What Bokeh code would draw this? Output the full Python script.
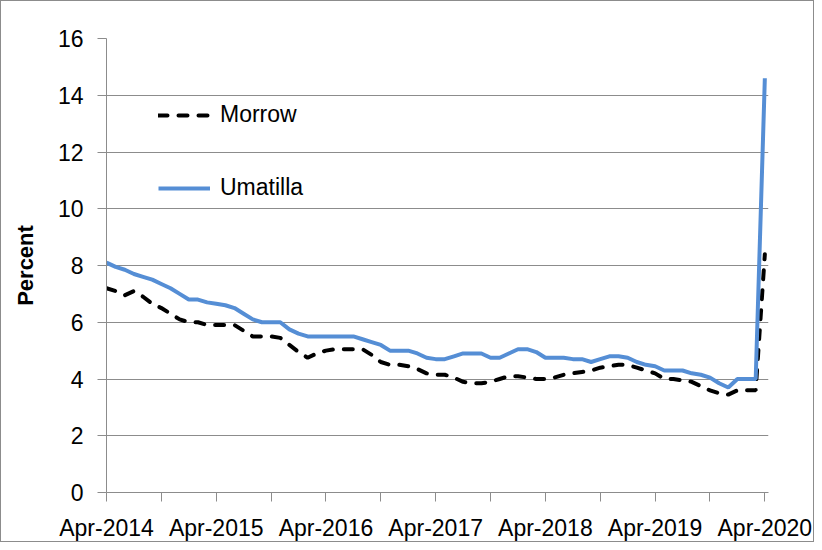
from bokeh.plotting import figure
from bokeh.models import Range1d, FixedTicker, Legend, LegendItem
from bokeh.embed import file_html
from bokeh.resources import INLINE

tick_labels = ["Apr-2014", "Apr-2015", "Apr-2016", "Apr-2017", "Apr-2018", "Apr-2019", "Apr-2020"]

morrow = [7.2, 7.1, 6.95, 7.1, 6.9, 6.65, 6.5, 6.3, 6.1, 6.0, 6.0, 5.9,
          5.9, 5.9, 5.9, 5.7, 5.5, 5.5, 5.5, 5.45, 5.2, 4.95, 4.75, 4.9,
          5.0, 5.05, 5.05, 5.05, 5.05, 4.85, 4.6, 4.5, 4.5, 4.45, 4.35, 4.2,
          4.15, 4.15, 4.05, 3.9, 3.85, 3.85, 3.9, 4.0, 4.1, 4.1, 4.05, 4.0,
          4.0, 4.05, 4.15, 4.2, 4.25, 4.3, 4.4, 4.45, 4.5, 4.5, 4.4, 4.3,
          4.2, 4.0, 4.0, 3.95, 3.9, 3.75, 3.6, 3.5, 3.45, 3.6, 3.6, 3.6,
          8.4]

umatilla = [8.1, 7.95, 7.85, 7.7, 7.6, 7.5, 7.35, 7.2, 7.0, 6.8, 6.8, 6.7,
            6.65, 6.6, 6.5, 6.3, 6.1, 6.0, 6.0, 6.0, 5.75, 5.6, 5.5, 5.5,
            5.5, 5.5, 5.5, 5.5, 5.4, 5.3, 5.2, 5.0, 5.0, 5.0, 4.9, 4.75,
            4.7, 4.7, 4.8, 4.9, 4.9, 4.9, 4.75, 4.75, 4.9, 5.05, 5.05, 4.95,
            4.75, 4.75, 4.75, 4.7, 4.7, 4.6, 4.7, 4.8, 4.8, 4.75, 4.6, 4.5,
            4.45, 4.3, 4.3, 4.3, 4.2, 4.15, 4.05, 3.85, 3.7, 4.0, 4.0, 4.0,
            14.6]

months = list(range(len(morrow)))

FONT = "Liberation Sans"
GRAY = "#8c8c8c"

p = figure(width=814, height=542, output_backend="svg", toolbar_location=None,
           x_range=Range1d(0, 72.4), y_range=Range1d(0, 16),
           min_border_left=105, min_border_right=47, min_border_top=37,
           min_border_bottom=48)
p.styles = {"border": "1px solid #8c8c8c"}
p.outline_line_color = None

r_m = p.line(months, morrow, line_color="black", line_width=4,
             line_dash="9 11", line_cap="round")
r_u = p.line(months, umatilla, line_color="#558ed5", line_width=4)

# x axis
p.xaxis.ticker = FixedTicker(ticks=list(range(0, 73, 6)))
overrides = {}
for k in range(0, 73, 6):
    overrides[k] = tick_labels[k // 12] if k % 12 == 0 else ""
p.xaxis.major_label_overrides = overrides
p.xaxis.axis_line_color = GRAY
p.xaxis.major_tick_line_color = GRAY
p.xaxis.major_tick_in = 0
p.xaxis.major_tick_out = 9
p.xaxis.minor_tick_line_color = None
p.xaxis.major_label_text_font = FONT
p.xaxis.major_label_text_font_size = "23px"
p.xaxis.major_label_text_color = "black"
p.xaxis.major_label_standoff = 13

# y axis
p.yaxis.ticker = FixedTicker(ticks=list(range(0, 17, 2)))
p.yaxis.axis_line_color = GRAY
p.yaxis.major_tick_line_color = GRAY
p.yaxis.major_tick_in = 0
p.yaxis.major_tick_out = 9
p.yaxis.minor_tick_line_color = None
p.yaxis.major_label_text_font = FONT
p.yaxis.major_label_text_font_size = "23px"
p.yaxis.major_label_text_color = "black"
p.yaxis.major_label_standoff = 14
p.yaxis.axis_label = "Percent"
p.yaxis.axis_label_text_font = FONT
p.yaxis.axis_label_text_font_size = "22px"
p.yaxis.axis_label_text_font_style = "bold"
p.yaxis.axis_label_text_color = "black"
p.yaxis.axis_label_standoff = 17

p.xgrid.grid_line_color = None
p.ygrid.grid_line_color = GRAY
p.ygrid.ticker = FixedTicker(ticks=list(range(0, 17, 2)))

legend = Legend(items=[LegendItem(label="Morrow", renderers=[r_m]),
                       LegendItem(label="Umatilla", renderers=[r_u])],
                location=(52, 291), glyph_width=52, glyph_height=20,
                label_height=20, spacing=46, padding=0, margin=0,
                border_line_color=None, background_fill_alpha=0,
                label_text_font=FONT, label_text_font_size="23px",
                label_text_color="black", label_standoff=10)
p.add_layout(legend)

open("out.html", "w").write(file_html(p, INLINE))
